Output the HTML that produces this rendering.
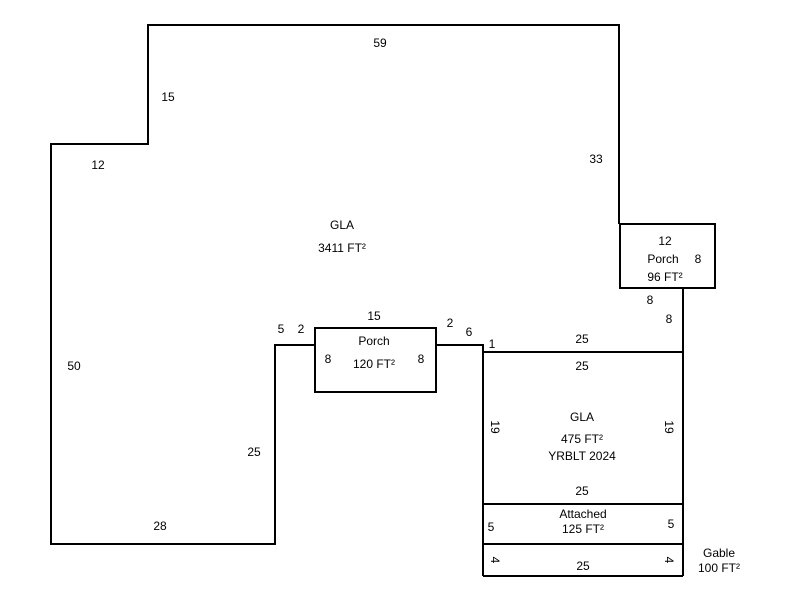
<!DOCTYPE html>
<html><head><meta charset="utf-8"><style>body{margin:0;background:#fff}</style></head><body>
<svg width="800" height="600" xmlns="http://www.w3.org/2000/svg" font-family="Liberation Sans, Arial, sans-serif" font-size="12" fill="#000">
<g fill="none" stroke="#000" stroke-width="2">
<polyline points="619,224 619,25 148,25 148,144 51,144 51,544 275,544 275,345 315,345"/>
<polyline points="436,345 483,345 483,576"/>
<polyline points="683,288 683,576"/>
<line x1="483" y1="352" x2="683" y2="352"/>
<line x1="483" y1="504" x2="683" y2="504"/>
<line x1="483" y1="544" x2="683" y2="544"/>
<line x1="483" y1="576" x2="683" y2="576"/>
<rect x="620" y="224" width="95" height="64"/>
<rect x="315" y="328" width="121" height="64"/>
</g>
<g text-anchor="middle">
<text x="380" y="47">59</text>
<text x="168" y="101">15</text>
<text x="98" y="169">12</text>
<text x="596" y="163">33</text>
<text x="342" y="229">GLA</text>
<text x="342" y="252">3411 FT²</text>
<text x="665" y="245">12</text>
<text x="663" y="263">Porch</text>
<text x="698" y="263">8</text>
<text x="665" y="281">96 FT²</text>
<text x="650" y="304">8</text>
<text x="669" y="323">8</text>
<text x="374" y="320">15</text>
<text x="281" y="333">5</text>
<text x="301" y="333">2</text>
<text x="374" y="345">Porch</text>
<text x="328" y="363">8</text>
<text x="374" y="368">120 FT²</text>
<text x="421" y="363">8</text>
<text x="450" y="327">2</text>
<text x="469" y="336">6</text>
<text x="492" y="348">1</text>
<text x="582" y="343">25</text>
<text x="582" y="370">25</text>
<text x="74" y="370">50</text>
<text x="254" y="456">25</text>
<text x="160" y="530">28</text>
<text x="582" y="421">GLA</text>
<text x="582" y="443">475 FT²</text>
<text x="582" y="460">YRBLT 2024</text>
<text x="582" y="495">25</text>
<text x="583" y="518">Attached</text>
<text x="583" y="533">125 FT²</text>
<text x="491" y="531">5</text>
<text x="671" y="528">5</text>
<text x="583" y="570">25</text>
<text x="719" y="557">Gable</text>
<text x="719" y="572">100 FT²</text>
<text transform="translate(491,427) rotate(90)">19</text>
<text transform="translate(665,427) rotate(90)">19</text>
<text transform="translate(491,560) rotate(90)">4</text>
<text transform="translate(665,560) rotate(90)">4</text>
</g>
</svg>
</body></html>
